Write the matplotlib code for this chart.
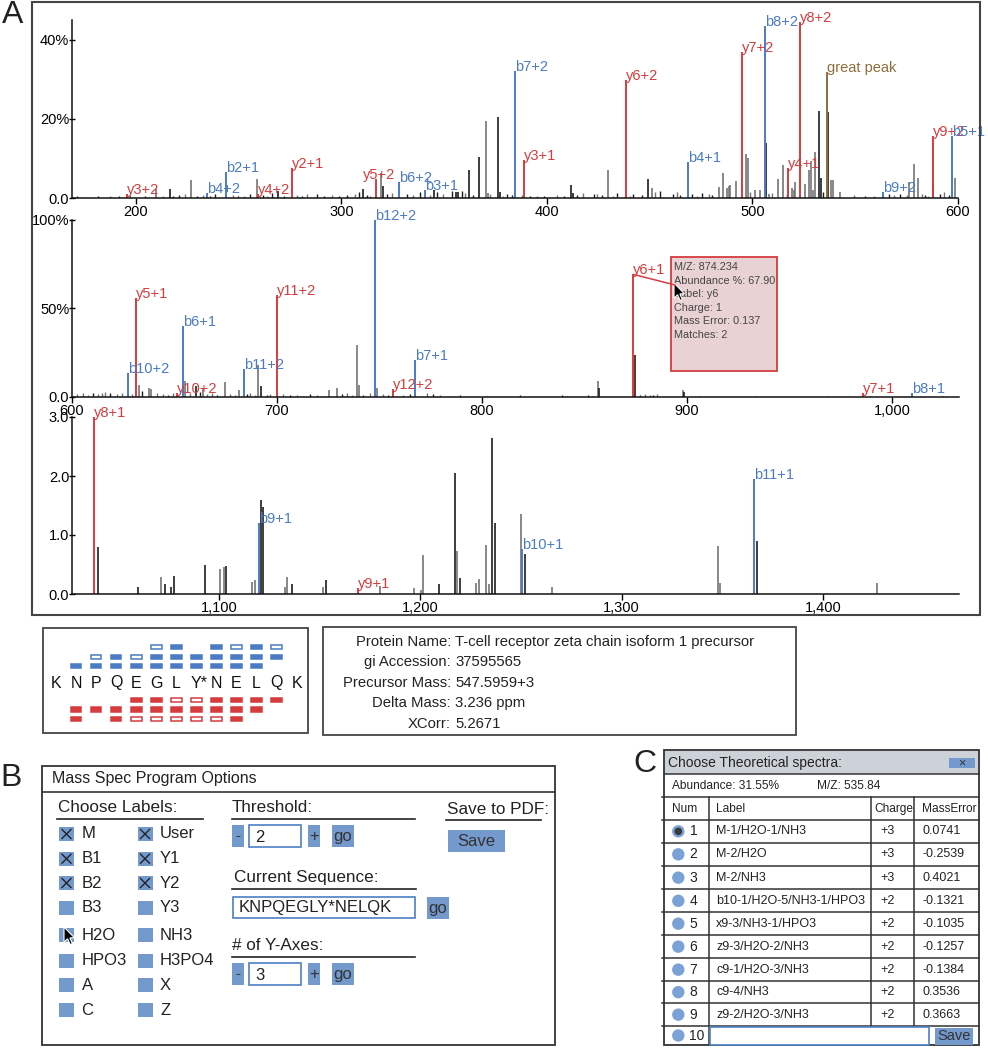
import matplotlib
matplotlib.use('Agg')
import matplotlib.pyplot as plt
from matplotlib.patches import Rectangle, Circle, Polygon, ConnectionPatch

plt.rcParams['font.family'] = ['Liberation Sans', 'DejaVu Sans']

RED = '#d63c3e'
BLUE = '#4a7bc4'
BROWN = '#8d6e3c'
GREY = '#747474'
BLACK = '#1c1c1c'
BTN = '#7499cd'
COL = {'r': RED, 'b': BLUE, 'o': BROWN, 'k': BLACK, 'g': GREY}

# ---------------- spectrum 1 : m/z 170-600, abundance %
s1_lab_mz = [195.8, 234.7, 243.8, 259.6, 276.0, 316.8, 328.3, 340.8, 384.7, 388.8,
             438.4, 468.9, 494.9, 506.1, 517.3, 523.3, 536.2, 563.3, 587.6, 597.2]
s1_lab_h = [1.0, 1.2, 6.6, 1.0, 7.5, 4.8, 4.1, 1.9, 32.2, 9.6,
            29.9, 9.1, 36.8, 43.5, 7.6, 44.6, 31.8, 1.4, 15.8, 15.8]
s1_lab_txt = ['y3+2', 'b4+2', 'b2+1', 'y4+2', 'y2+1', 'y5+2', 'b6+2', 'b3+1', 'b7+2', 'y3+1',
              'y6+2', 'b4+1', 'y7+2', 'b8+2', 'y4+1', 'y8+2', 'great peak', 'b9+2', 'y9+2', 'b5+1']
s1_lab_c = 'rbbrrrbbbrrbrbrrobrb'

s1_mz = [209.9, 216.7, 226.8, 258.9, 269.0, 310.8, 319.5, 320.5, 345.0, 355.9,
         357.0, 362.2, 367.2, 370.5, 371.2, 376.0, 377.2, 411.7, 412.5, 429.7,
         449.4, 451.0, 483.8, 485.9, 487.6, 488.4, 489.2, 492.0, 497.0, 497.8,
         501.4, 503.8, 506.7, 508.3, 512.2, 514.7, 519.2, 520.0, 520.8, 525.7,
         527.3, 528.4, 529.4, 530.6, 532.5, 533.3, 536.7, 538.0, 539.1, 542.7,
         576.4, 578.4, 580.7, 588.0, 598.7]
s1_h = [2.4, 2.2, 4.5, 4.7, 1.7, 2.4, 6.2, 3.1, 2.0, 1.5,
        1.5, 7.0, 10.4, 19.5, 1.2, 20.6, 1.4, 3.3, 1.2, 7.0,
        4.9, 2.5, 2.9, 6.2, 2.5, 3.0, 3.3, 4.2, 11.1, 10.0,
        2.0, 2.0, 13.8, 1.0, 4.8, 8.3, 2.5, 2.0, 4.0, 3.5,
        7.2, 9.3, 2.0, 11.7, 21.9, 5.0, 21.7, 4.5, 4.5, 1.5,
        4.1, 8.7, 5.0, 4.0, 5.0]
s1_c = 'gkggkkgkkk' 'kkkggkkkkg' 'kggggggggg' 'ggkggggggg' 'ggggkkkggg' 'gggkg'

s1_noise_mz = [171.3, 175.0, 181.8, 187.5, 192.0, 197.2, 204.5, 213.4, 218.3, 221.0,
               224.0, 229.7, 232.9, 236.0, 238.6, 247.5, 249.9, 252.5, 255.6, 262.1,
               264.0, 266.2, 272.0, 278.4, 281.0, 283.2, 288.1, 291.5, 295.4, 299.0,
               302.7, 306.8, 308.4, 312.4, 314.0, 322.1, 324.6, 331.9, 335.1, 338.4,
               343.0, 346.5, 349.7, 353.8, 358.6, 360.3, 364.3, 372.4, 378.9, 380.5,
               383.0, 387.8, 391.9, 395.1, 398.4, 404.9, 408.1, 414.6, 417.8, 422.7,
               424.3, 426.7, 432.4, 434.0, 440.5, 442.1, 446.2, 452.6, 455.1, 461.6,
               463.2, 464.9, 470.5, 473.0, 475.4, 478.7, 480.3, 498.9, 509.5, 516.8,
               534.3, 549.2, 555.0, 558.9, 566.2, 568.7, 571.9, 575.1, 582.4, 584.0,
               585.2, 591.3, 593.3, 595.4]
s1_noise_h = [0.5, 0.3, 0.6, 0.4, 0.5, 0.8, 0.4, 0.6, 0.5, 0.7,
              0.9, 0.5, 0.7, 0.4, 1.0, 0.8, 0.6, 0.5, 0.9, 0.7,
              0.5, 1.2, 0.6, 0.8, 0.5, 0.9, 1.1, 0.6, 0.8, 0.5,
              0.7, 1.0, 1.5, 0.8, 0.6, 0.9, 1.2, 1.0, 0.7, 1.4,
              0.8, 1.6, 0.9, 1.7, 1.8, 1.2, 0.7, 0.9, 0.6, 1.1,
              0.8, 0.7, 0.5, 0.6, 0.4, 0.7, 0.5, 0.8, 1.2, 0.9,
              1.0, 0.8, 0.6, 1.2, 0.5, 1.0, 0.7, 1.5, 1.8, 0.9,
              1.4, 0.7, 1.0, 0.6, 1.2, 1.0, 0.8, 1.5, 1.3, 1.1,
              1.6, 0.8, 0.6, 0.5, 1.0, 0.7, 1.1, 0.8, 0.9, 0.8,
              0.6, 1.0, 1.5, 0.7]
s1_noise_c = ('kgkgkgkgkk' 'gkgkkgkgkk' 'gkkgkgkkgk' 'kgkkgkgkgk' 'gkgkkgkggk'
              'kgkgkgkkgk' 'gkgkgkkgkk' 'gkkgkgkggk' 'kgkgkgkggk' 'gkgk')

# ---------------- spectrum 2 : m/z 600-1030, abundance %
s2_lab_mz = [627.2, 631.2, 651.4, 654.0, 683.9, 699.8, 747.8, 756.4, 767.3, 873.8, 986.0, 1009.6]
s2_lab_h = [13.4, 56.1, 2.0, 40.1, 15.8, 57.6, 100.0, 4.8, 20.9, 69.3, 2.0, 2.0]
s2_lab_txt = ['b10+2', 'y5+1', 'y10+2', 'b6+1', 'b11+2', 'y11+2', 'b12+2', 'y12+2', 'b7+1',
              'y6+1', 'y7+1', 'b8+1']
s2_lab_c = 'brrbbrbrbrrb'

s2_mz = [632.5, 637.5, 638.5, 655.0, 660.3, 664.0, 674.6, 681.5, 690.9, 692.0,
         725.5, 729.5, 738.9, 739.8, 748.8, 856.4, 857.0, 874.5, 897.9, 898.5]
s2_h = [7.0, 5.0, 4.5, 8.8, 6.0, 4.5, 8.5, 4.0, 18.1, 6.0,
        4.0, 5.0, 29.4, 7.0, 5.0, 9.0, 5.0, 23.7, 4.0, 3.0]
s2_c = 'ggggkggggk' 'gggggg' 'kkgk'

s2_noise_mz = [602.3, 605.5, 608.0, 610.4, 612.9, 614.5, 616.1, 618.5, 621.8, 624.2,
               629.1, 634.0, 641.3, 644.6, 646.9, 649.4, 657.5, 662.4, 665.7, 668.1,
               670.5, 677.0, 679.5, 685.2, 686.8, 689.3, 695.0, 696.6, 703.1, 706.3,
               709.6, 712.8, 716.1, 719.3, 722.6, 731.5, 734.0, 736.4, 742.1, 745.4,
               751.9, 754.3, 758.4, 761.6, 764.9, 770.6, 773.0, 776.3, 779.5, 784.4,
               789.3, 792.5, 797.4, 802.3, 807.0, 812.0, 818.5, 829.9, 835.6, 838.8,
               841.3, 849.4, 851.9, 854.3, 864.0, 877.0, 879.5, 881.9, 883.6, 885.2,
               892.5, 906.3, 914.5, 924.2, 933.2, 943.7, 955.1, 968.9, 978.7, 989.3,
               1013.7, 1024.2]
s2_noise_h = [1.5, 2.0, 1.2, 2.5, 1.8, 2.2, 2.8, 2.0, 1.5, 2.4,
              1.8, 3.5, 2.0, 1.5, 1.2, 2.0, 2.5, 3.0, 1.5, 2.0,
              1.2, 1.8, 1.0, 1.5, 2.5, 1.2, 1.0, 1.8, 1.5, 1.0,
              1.2, 0.8, 1.5, 1.0, 0.8, 1.5, 2.0, 1.2, 1.0, 2.5,
              1.5, 1.2, 0.8, 1.0, 1.5, 0.8, 2.0, 1.5, 1.0, 0.8,
              1.2, 0.8, 0.6, 0.8, 0.5, 0.8, 1.0, 0.6, 0.8, 1.0,
              0.6, 0.8, 1.2, 0.8, 0.6, 1.0, 1.5, 1.2, 1.0, 1.5,
              0.8, 0.6, 0.8, 0.5, 0.6, 0.6, 0.8, 0.5, 0.6, 0.8,
              0.8, 0.5]
s2_noise_c = ('gggkgggkgg' 'gkggkggkgg' 'kggkggkggk' 'ggkggkggkg' 'gkggkggkgg'
              'kggkggkggk' 'ggkggkggkg' 'gkggkggkgk' 'gk')

# ---------------- spectrum 3 : m/z 1030-1470, abundance %
s3_lab_mz = [1038.1, 1119.7, 1169.2, 1250.7, 1365.8]
s3_lab_h = [3.0, 1.21, 0.1, 0.77, 1.95]
s3_lab_txt = ['y8+1', 'b9+1', 'y9+1', 'b10+1', 'b11+1']
s3_lab_c = 'rbrbb'

s3_mz = [1039.8, 1059.6, 1071.1, 1073.0, 1076.2, 1077.7, 1093.2, 1100.5, 1102.5, 1103.5,
         1116.4, 1118.0, 1120.7, 1121.7, 1133.0, 1133.6, 1136.3, 1151.8, 1153.2, 1180.0,
         1197.0, 1200.5, 1201.2, 1209.3, 1217.1, 1218.1, 1219.6, 1227.5, 1229.3, 1232.7,
         1233.9, 1235.5, 1237.0, 1250.1, 1251.9, 1265.5, 1348.0, 1349.0, 1367.1, 1427.0]
s3_h = [0.80, 0.12, 0.28, 0.17, 0.12, 0.30, 0.49, 0.43, 0.45, 0.47,
        0.21, 0.24, 1.59, 1.48, 0.12, 0.28, 0.17, 0.12, 0.23, 0.13,
        0.10, 0.06, 0.66, 0.17, 2.05, 0.73, 0.27, 0.19, 0.25, 0.83,
        0.17, 2.65, 1.20, 1.36, 0.68, 0.12, 0.81, 0.18, 0.90, 0.19]
s3_c = 'kkgkkkkggk' 'ggkkggkgkg' 'gggkkgkggg' 'gkkgkgggkg'

s1_xticks = [200, 300, 400, 500, 600]
s1_xlabels = ['200', '300', '400', '500', '600']
s1_yticks = [0, 20, 40]
s1_ylabels = ['0.0', '20%', '40%']
s2_xticks = [600, 700, 800, 900, 1000]
s2_xlabels = ['600', '700', '800', '900', '1,000']
s2_yticks = [0, 50, 100]
s2_ylabels = ['0.0', '50%', '100%']
s3_xticks = [1100, 1200, 1300, 1400]
s3_xlabels = ['1,100', '1,200', '1,300', '1,400']
s3_yticks = [0, 1, 2, 3]
s3_ylabels = ['0.0', '1.0', '2.0', '3.0']

tooltip = ['M/Z: 874.234', 'Abundance %: 67.90', 'Label: y6', 'Charge: 1',
           'Mass Error: 0.137', 'Matches: 2']

# ---------------- fragment map / protein info
residues = ['K', 'N', 'P', 'Q', 'E', 'G', 'L', 'Y*', 'N', 'E', 'L', 'Q', 'K']
b_rows = ['....OF.FOFO', '.OFOFFFFFFF', 'FFFFFFFFFF.']   # top to bottom
y_rows = ['...FFOOFFFF', 'FFFFFFFFFF.', 'F.FOOOOOF..']
info_keys = ['Protein Name:', 'gi Accession:', 'Precursor Mass:', 'Delta Mass:', 'XCorr:']
info_vals = ['T-cell receptor zeta chain isoform 1 precursor', '37595565',
             '547.5959+3', '3.236 ppm', '5.2671']

# ---------------- panel B
labels_col1 = ['M', 'B1', 'B2', 'B3', 'H2O', 'HPO3', 'A', 'C']
labels_col2 = ['User', 'Y1', 'Y2', 'Y3', 'NH3', 'H3PO4', 'X', 'Z']
checked_col1 = [True, True, True, False, False, False, False, False]
checked_col2 = [True, True, True, False, False, False, False, False]
threshold = '2'
sequence = 'KNPQEGLY*NELQK'
n_axes = '3'

# ---------------- panel C
c_num = ['1', '2', '3', '4', '5', '6', '7', '8', '9']
c_label = ['M-1/H2O-1/NH3', 'M-2/H2O', 'M-2/NH3', 'b10-1/H2O-5/NH3-1/HPO3',
           'x9-3/NH3-1/HPO3', 'z9-3/H2O-2/NH3', 'c9-1/H2O-3/NH3', 'c9-4/NH3',
           'z9-2/H2O-3/NH3']
c_charge = ['+3', '+3', '+3', '+2', '+2', '+2', '+2', '+2', '+2']
c_error = ['0.0741', '-0.2539', '0.4021', '-0.1321', '-0.1035', '-0.1257',
           '-0.1384', '0.3536', '0.3663']

W, H = 988, 1050
fig = plt.figure(figsize=(W / 100, H / 100), dpi=100)

bg = fig.add_axes([0, 0, 1, 1])
bg.set_xlim(0, W)
bg.set_ylim(H, 0)
bg.axis('off')
bg.set_zorder(5)
bg.patch.set_alpha(0)

# labels nudged sideways (points) where the original moved them off the peak
nudge = {'y5+2': -9}


def px_axes(x0, y0, x1, y1):
    return fig.add_axes([x0 / W, 1 - y1 / H, (x1 - x0) / W, (y1 - y0) / H])


def spectrum(box, xlim, ylim, mz, h, c, nmz, nh, nc, lmz, lh, ltxt, lc,
             xt, xl, yt, yl):
    ax = px_axes(*box)
    ax.patch.set_alpha(0)
    if nmz:
        ax.vlines(nmz, 0, nh, colors=[COL[k] for k in nc], lw=1.0)
    ax.vlines(mz, 0, h, colors=[COL[k] for k in c], lw=1.2)
    ax.vlines(lmz, 0, lh, colors=[COL[k] for k in lc], lw=1.4)
    for x, y, t, k in zip(lmz, lh, ltxt, lc):
        ax.annotate(t, (x, y), xytext=(nudge.get(t, 0), 0), textcoords='offset points',
                    color=COL[k], fontsize=10.5, ha='left', va='baseline')
    ax.set_xlim(xlim)
    ax.set_ylim(ylim)
    for s in ['top', 'right']:
        ax.spines[s].set_visible(False)
    for s in ['left', 'bottom']:
        ax.spines[s].set_linewidth(1.1)
        ax.spines[s].set_color('#111111')
    ax.set_xticks(xt)
    ax.set_xticklabels(xl)
    ax.set_yticks(yt)
    ax.set_yticklabels(yl)
    ax.tick_params(axis='y', direction='inout', length=4, width=1, labelsize=10.5, pad=0)
    ax.tick_params(axis='x', direction='out', length=4, width=1, labelsize=10.5, pad=1)
    return ax


ax1 = spectrum((72, 20, 958, 198), (169, 600), (0, 45), s1_mz, s1_h, s1_c,
               s1_noise_mz, s1_noise_h, s1_noise_c, s1_lab_mz, s1_lab_h, s1_lab_txt, s1_lab_c,
               s1_xticks, s1_xlabels, s1_yticks, s1_ylabels)
ax2 = spectrum((72, 220, 959, 397), (600, 1032.7), (0, 100), s2_mz, s2_h, s2_c,
               s2_noise_mz, s2_noise_h, s2_noise_c, s2_lab_mz, s2_lab_h, s2_lab_txt, s2_lab_c,
               s2_xticks, s2_xlabels, s2_yticks, s2_ylabels)
ax3 = spectrum((72, 417, 959, 594), (1027, 1467.6), (0, 3.0), s3_mz, s3_h, s3_c,
               [], [], '', s3_lab_mz, s3_lab_h, s3_lab_txt, s3_lab_c,
               s3_xticks, s3_xlabels, s3_yticks, s3_ylabels)


def cursor(x, y, s=1.0):
    pts = [(0, 0), (0, 16), (3.8, 12.4), (6.5, 18.5), (8.8, 17.5), (6.2, 11.5), (11, 11.3)]
    bg.add_patch(Polygon([(x + a * s, y + b * s) for a, b in pts], closed=True,
                         fc='black', ec='white', lw=0.8, zorder=20))


def box(x0, y0, x1, y1, fc='none', ec='#333333', lw=1.2, z=2):
    bg.add_patch(Rectangle((x0, y0), x1 - x0, y1 - y0, fc=fc, ec=ec, lw=lw, zorder=z))


def button(x0, y0, x1, y1, txt, size=12):
    box(x0, y0, x1, y1, fc=BTN, ec='none')
    bg.text((x0 + x1) / 2, (y0 + y1) / 2, txt, ha='center', va='center', fontsize=size,
            color='#333333', zorder=3)


# ---------------- panel A frame and tooltip
bg.text(2, 15, 'A', fontsize=23, va='center', ha='left', color='#222222')
box(32, 2, 980, 615, ec='#444444', lw=1.5)

box(671, 257, 777, 371, fc='#e9d2d4', ec=RED, lw=1.3, z=6)
for i, t in enumerate(tooltip):
    bg.text(674, 267 + i * 13.6, t, fontsize=7.8, color='#444444', va='center', zorder=7)
con = ConnectionPatch(xyA=(s2_lab_mz[9], s2_lab_h[9]), coordsA=ax2.transData,
                      xyB=(675, 285), coordsB=bg.transData, color=RED, lw=1.1, zorder=6)
fig.add_artist(con)
cursor(674, 283, 0.95)

# ---------------- fragment ion map
box(43, 628, 308, 733, ec='#444444', lw=1.3)
for i, r in enumerate(residues):
    x = 56 + 20.05 * i + (3 if r == 'Y*' else 0)
    bg.text(x, 683, r, fontsize=11.5, ha='center', va='center', color='#111111')


def ion_rows(rows, ys, col):
    for row, y in zip(rows, ys):
        for j, s in enumerate(row):
            if s == '.':
                continue
            x = 56 + 20.05 * (j + 1)
            fc = col if s == 'F' else 'white'
            bg.add_patch(Rectangle((x - 5.3, y - 2.2), 10.6, 4.4, fc=fc, ec=col, lw=1.1, zorder=3))


ion_rows(b_rows, [647.3, 656.7, 665.7], BLUE)
ion_rows(y_rows, [700, 709.6, 719.3], RED)

# ---------------- protein info
box(323, 627, 796, 735, ec='#444444', lw=1.3)
for i, (k, v) in enumerate(zip(info_keys, info_vals)):
    y = 642 + i * 20.4
    bg.text(451, y, k, fontsize=10.7, ha='right', va='center', color='#222222')
    bg.text(455, y, v, fontsize=10.7, ha='left', va='center', color='#222222')

# ---------------- panel B
bg.text(0, 778, 'B', fontsize=23, va='center', ha='left', color='#222222')
box(42, 766, 555, 1045, ec='#333333', lw=1.3)
bg.plot([42, 555], [792, 792], color='#333333', lw=1.2)
bg.text(52, 779, 'Mass Spec Program Options', fontsize=11.5, va='center', color='#222222')

bg.text(58, 808, 'Choose Labels:', fontsize=12.3, va='center', color='#222222')
bg.plot([57, 203], [818.5, 818.5], color='#222222', lw=1.2)
rows_y = [834, 858.7, 883, 908, 935, 960.7, 985, 1010.3]
for col_x, labs, chk in [(59, labels_col1, checked_col1), (137.5, labels_col2, checked_col2)]:
    for y, lab, c in zip(rows_y, labs, chk):
        box(col_x, y - 7, col_x + 15, y + 7, fc=BTN, ec='none')
        if c:
            bg.plot([col_x + 3, col_x + 12], [y - 4.5, y + 4.5], color='#222222', lw=1.0, zorder=4)
            bg.plot([col_x + 3, col_x + 12], [y + 4.5, y - 4.5], color='#222222', lw=1.0, zorder=4)
        bg.text(col_x + 22.5, y, lab, fontsize=12, va='center', color='#222222')
cursor(64, 927, 0.95)

bg.text(232, 808, 'Threshold:', fontsize=12.3, va='center', color='#222222')
bg.plot([232, 415], [818.5, 818.5], color='#222222', lw=1.2)
bg.text(234, 877.5, 'Current Sequence:', fontsize=12.3, va='center', color='#222222')
bg.plot([232, 416], [888.5, 888.5], color='#222222', lw=1.2)
bg.text(232, 945.5, '# of Y-Axes:', fontsize=12.3, va='center', color='#222222')
bg.plot([232, 415], [957, 957], color='#222222', lw=1.2)

for y0, val in [(825, threshold), (963, n_axes)]:
    button(232, y0, 244, y0 + 22, '-', 11)
    box(249, y0, 301, y0 + 22, fc='white', ec='#4d7fc4', lw=1.2)
    bg.text(255, y0 + 12, val, fontsize=12, va='center', color='#222222')
    button(308, y0, 320, y0 + 22, '+', 12)
    button(332, y0, 354, y0 + 22, 'go', 12)

box(233, 897, 415, 918, fc='white', ec='#4d7fc4', lw=1.2)
bg.text(239, 907.5, sequence, fontsize=12, va='center', color='#222222')
button(427, 897, 449, 919, 'go', 12)

bg.text(447, 810, 'Save to PDF:', fontsize=12.3, va='center', color='#222222')
bg.plot([446, 541], [820, 820], color='#222222', lw=1.2)
button(448, 830, 505, 852, 'Save', 12)

# ---------------- panel C
bg.text(633, 764, 'C', fontsize=23, va='center', ha='left', color='#222222')
box(664, 749.5, 979, 773.5, fc='#cdd2d9', ec='none', z=1)
box(664, 749.5, 979, 1045, ec='#333333', lw=1.3)
bg.text(668, 762.5, 'Choose Theoretical spectra:', fontsize=10, va='center', color='#222222')
button(949, 758, 975, 768, '×', 9)
bg.plot([664, 979], [773.5, 773.5], color='#333333', lw=1.1)
bg.text(672, 786, 'Abundance: 31.55%', fontsize=8.6, va='center', color='#222222')
bg.text(817, 786, 'M/Z: 535.84', fontsize=8.6, va='center', color='#222222')

row_lines = [796.7, 820, 842.7, 866, 889.3, 912.3, 935, 958.3, 981, 1003.3, 1026]
for y in row_lines:
    bg.plot([662, 979], [y, y], color='#333333', lw=1.1)
bg.plot([709, 709], [796.7, 1045], color='#333333', lw=1.1)
for x in [870.7, 914]:
    bg.plot([x, x], [796.7, 1026], color='#333333', lw=1.1)

clip = Rectangle((664, 749.5), 315, 296, transform=bg.transData)
for x, t in [(672, 'Num'), (716, 'Label'), (874, 'Charge'), (922, 'MassError')]:
    tx = bg.text(x, 809, t, fontsize=8.6, va='center', color='#222222')
    tx.set_clip_path(clip)

for i in range(len(c_num)):
    y = (row_lines[i + 1] + row_lines[i + 2]) / 2
    bg.add_patch(Circle((678.3, y), 6.2, fc='#7ba2d6', ec='none', zorder=3))
    if i == 0:
        bg.add_patch(Circle((678.3, y), 3.8, fc='#3a3a3a', ec='none', zorder=4))
    bg.text(693.5, y, c_num[i], fontsize=10, ha='center', va='center', color='#222222')
    bg.text(716, y, c_label[i], fontsize=9, va='center', color='#222222')
    bg.text(880, y, c_charge[i], fontsize=9, va='center', color='#222222')
    bg.text(922.5, y, c_error[i], fontsize=9, va='center', color='#222222')

y10 = (1026 + 1045) / 2
bg.add_patch(Circle((678.3, y10), 6.2, fc='#7ba2d6', ec='none', zorder=3))
bg.text(697, y10, '10', fontsize=10, ha='center', va='center', color='#222222')
box(710, 1027, 929, 1045, fc='white', ec='#4d7fc4', lw=1.2)
button(935, 1028, 973, 1045, 'Save', 10.5)

fig.savefig('out.png', dpi=100)
